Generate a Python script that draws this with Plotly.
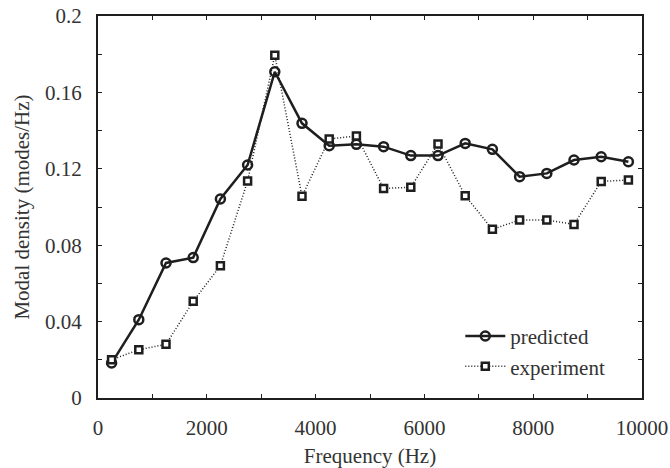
import plotly.graph_objects as go

# Frequency band centres (Hz)
freq = [250, 750, 1250, 1750, 2250, 2750, 3250, 3750, 4250, 4750,
        5250, 5750, 6250, 6750, 7250, 7750, 8250, 8750, 9250, 9750]

# Modal density (modes/Hz)
predicted = [0.0183, 0.0410, 0.0707, 0.0735, 0.1042, 0.1220, 0.1708, 0.1438,
             0.1321, 0.1328, 0.1316, 0.1269, 0.1269, 0.1333, 0.1302, 0.1159,
             0.1176, 0.1246, 0.1263, 0.1237]
experiment = [0.0200, 0.0253, 0.0281, 0.0506, 0.0693, 0.1136, 0.1794, 0.1056,
              0.1356, 0.1372, 0.1097, 0.1103, 0.1330, 0.1059, 0.0883, 0.0932,
              0.0932, 0.0909, 0.1134, 0.1141]

# Ticks every 1000 Hz / 0.02 modes/Hz, labels on every other one
x_ticks = [0, 1000, 2000, 3000, 4000, 5000, 6000, 7000, 8000, 9000, 10000]
x_tick_text = ["0", "", "2000", "", "4000", "", "6000", "", "8000", "", "10000"]
y_ticks = [0, 0.02, 0.04, 0.06, 0.08, 0.10, 0.12, 0.14, 0.16, 0.18, 0.2]
y_tick_text = ["0", "", "0.04", "", "0.08", "", "0.12", "", "0.16", "", "0.2"]

ink = "#1e1e1e"
text_col = "#333333"
font = "Liberation Serif"

fig = go.Figure()
fig.add_trace(go.Scatter(
    x=freq, y=predicted, name="predicted", mode="lines+markers",
    line=dict(color=ink, width=2.5),
    marker=dict(symbol="circle-open", size=9, color=ink, line=dict(width=2.5)),
))
fig.add_trace(go.Scatter(
    x=freq, y=experiment, name="experiment", mode="lines+markers",
    line=dict(color=ink, width=1.5, dash="1px,2px"),
    marker=dict(symbol="square", size=7, color="white", line=dict(color=ink, width=2.5)),
))

axis_common = dict(
    showline=True, linecolor=ink, linewidth=2, mirror="ticks",
    ticks="inside", ticklen=4, tickwidth=1.2, tickcolor=ink,
    showgrid=False, zeroline=False, automargin=False,
    tickfont=dict(family=font, size=21, color=text_col),
    title_font=dict(family=font, size=21, color=text_col),
)

fig.update_xaxes(
    range=[0, 10000], tickvals=x_ticks, ticktext=x_tick_text,
    ticklabelstandoff=10,
    title_text="Frequency (Hz)", title_standoff=12,
    **axis_common,
)
fig.update_yaxes(
    range=[0, 0.2], tickvals=y_ticks, ticktext=y_tick_text,
    ticklabelstandoff=10,
    title_text="Modal density (modes/Hz)", title_standoff=10,
    **axis_common,
)

fig.update_layout(
    width=670, height=468,
    margin=dict(l=98, r=28, t=16, b=70),
    plot_bgcolor="white", paper_bgcolor="white",
    font=dict(family=font, color=text_col),
    legend=dict(
        x=0.666, y=0.215, xanchor="left", yanchor="top",
        bgcolor="rgba(0,0,0,0)", font=dict(family=font, size=21, color=text_col),
        itemwidth=40, tracegroupgap=0,
    ),
)

fig.write_html("out.html")
